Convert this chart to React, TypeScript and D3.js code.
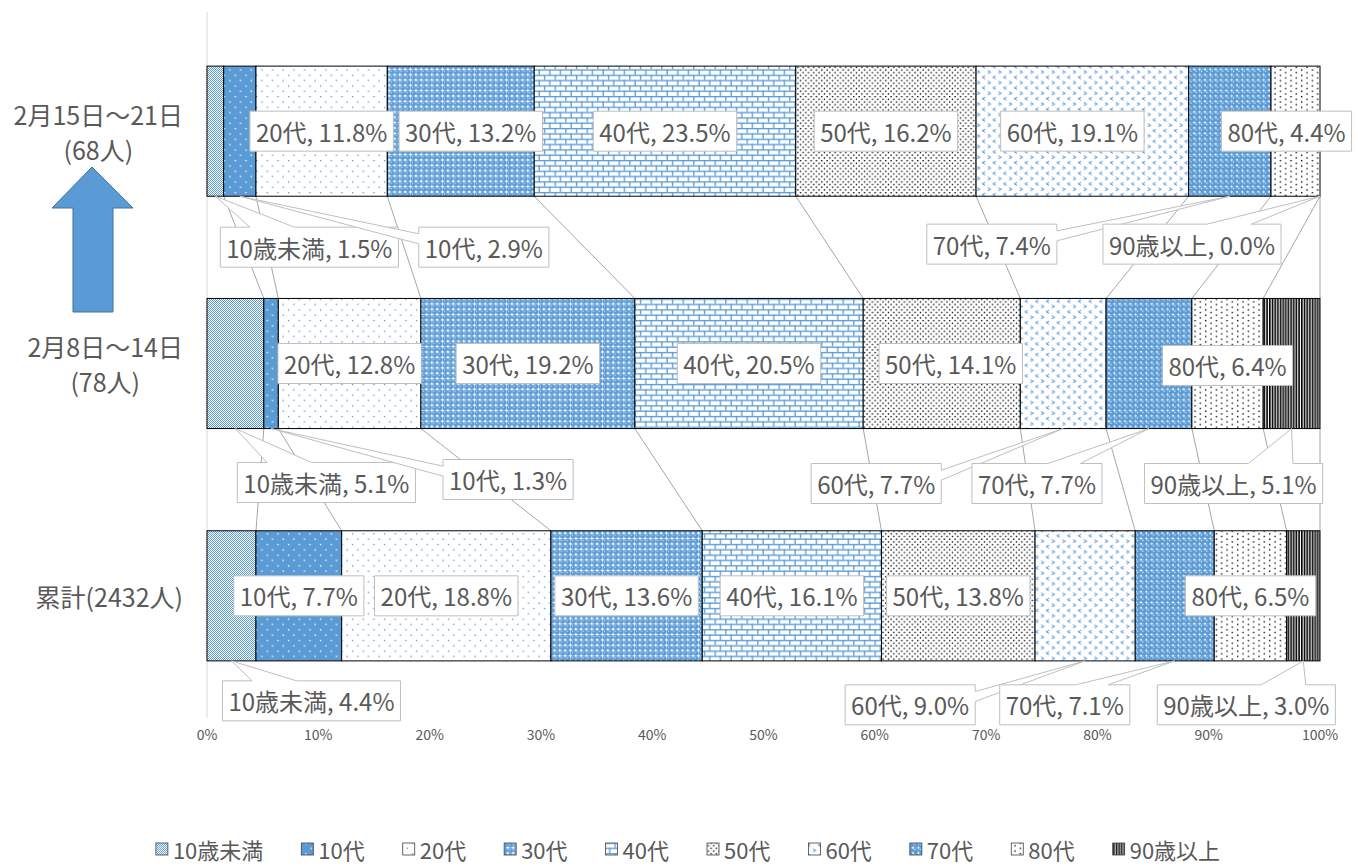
import React, { useRef, useEffect } from 'react';
import * as d3 from 'd3';

// categories (top to bottom) and the age groups that make up each bar
const categories = ['2月15日～21日', '2月8日～14日', '累計(2432人)'];
const categoryLines = [['2月15日～21日', '(68人)'], ['2月8日～14日', '(78人)'], ['累計(2432人)']];
const ageGroups = ['10歳未満', '10代', '20代', '30代', '40代', '50代', '60代', '70代', '80代', '90歳以上'];

// share of patients (%) per age group
const week0215 = [1.5, 2.9, 11.8, 13.2, 23.5, 16.2, 19.1, 7.4, 4.4, 0.0];
const week0208 = [5.1, 1.3, 12.8, 19.2, 20.5, 14.1, 7.7, 7.7, 6.4, 5.1];
const cumulative = [4.4, 7.7, 18.8, 13.6, 16.1, 13.8, 9.0, 7.1, 6.5, 3.0];
const seriesByCategory = [week0215, week0208, cumulative];

const xTicks = [0, 0.1, 0.2, 0.3, 0.4, 0.5, 0.6, 0.7, 0.8, 0.9, 1];

// hand placed label offsets (px) from the segment centre, like the moved labels in the sheet
const labelShift = [
  [[94, 116], [244, 116], [0, 0], [10, 0], [0, 0], [0, 0], [-10, 0], [-238, 113], [-9, 0], [-128, 113]],
  [[91, 119], [237, 116], [0, 0], [0, 0], [0, 0], [9, 0], [-187, 120], [-112, 120], [0, 2], [-58, 120]],
  [[80, 105], [0, 0], [0, 0], [0, 0], [0, 0], [0, 0], [-175, 109], [-110, 109], [0, 0], [-57, 109]],
];

const BLUE = '#5B9BD5';
const TEXT = '#595959';
const FONT = '"Noto Sans CJK JP", "Noto Sans", sans-serif';

type Shape = { kind: 'rect' | 'circle' | 'path'; a: any };

// Excel-like pattern fills, drawn on an 8x8 cell
const patterns: { id: string; bg: string; shapes: Shape[] }[] = [
  { id: 'p1', bg: BLUE, shapes: [
    { kind: 'rect', a: { x: 0, y: 0, width: 1, height: 1, fill: '#fff' } },
    { kind: 'rect', a: { x: 4, y: 4, width: 1, height: 1, fill: '#fff' } },
  ] },
  { id: 'p2', bg: '#fff', shapes: [
    { kind: 'rect', a: { x: 0, y: 0, width: 1, height: 1, fill: BLUE } },
    { kind: 'rect', a: { x: 4, y: 4, width: 1, height: 1, fill: BLUE } },
  ] },
  { id: 'p3', bg: '#fff', shapes: [[2, 2], [6, 2], [2, 6], [6, 6]].flatMap(([cx, cy]) => [
    { kind: 'circle' as const, a: { cx, cy, r: 2.0, fill: BLUE } },
    { kind: 'circle' as const, a: { cx: cx - 0.5, cy: cy - 0.5, r: 0.45, fill: '#fff' } },
  ]) },
  { id: 'p4', bg: '#fff', shapes: [
    { kind: 'rect', a: { x: 0, y: 0, width: 8, height: 1, fill: BLUE } },
    { kind: 'rect', a: { x: 0, y: 4, width: 8, height: 1, fill: BLUE } },
    { kind: 'rect', a: { x: 0, y: 0, width: 1, height: 4, fill: BLUE } },
    { kind: 'rect', a: { x: 4, y: 4, width: 1, height: 4, fill: BLUE } },
  ] },
  { id: 'p5', bg: '#fff', shapes: [[0, 0], [4, 0], [2, 2], [6, 2], [0, 4], [4, 4], [2, 6], [6, 6]].map(([x, y]) => (
    { kind: 'rect' as const, a: { x, y, width: 1, height: 1, fill: '#000' } })) },
  { id: 'p6', bg: '#fff', shapes: [
    { kind: 'path', a: { d: 'M3,0.8L1,2L3,3.2', fill: 'none', stroke: BLUE, 'stroke-width': 0.8 } },
    { kind: 'path', a: { d: 'M5,4.8L7,6L5,7.2', fill: 'none', stroke: BLUE, 'stroke-width': 0.8 } },
  ] },
  { id: 'p7', bg: '#fff', shapes: [[2, 2], [6, 2], [2, 6], [6, 6]].flatMap(([cx, cy]) => [
    { kind: 'circle' as const, a: { cx, cy, r: 2.15, fill: BLUE } },
    { kind: 'circle' as const, a: { cx: cx - 0.6, cy: cy - 0.6, r: 0.5, fill: '#fff' } },
  ]) },
  { id: 'p8', bg: '#fff', shapes: [[0, 0], [4, 2], [0, 4], [4, 6]].map(([x, y]) => (
    { kind: 'rect' as const, a: { x, y, width: 1, height: 1, fill: '#000' } })) },
  { id: 'p9', bg: '#fff', shapes: [0, 2, 4, 6].map((x) => (
    { kind: 'rect' as const, a: { x, y: 0, width: 1.2, height: 8, fill: '#000' } })) },
];

// rectangle with a wedge pointing at (px, py), like Excel's wedgeRectCallout
function calloutPath(x0: number, y0: number, w: number, h: number, px: number, py: number) {
  const x1 = x0 + w, y1 = y0 + h;
  if (px >= x0 && px <= x1 && py >= y0 && py <= y1) {
    return `M${x0},${y0}H${x1}V${y1}H${x0}Z`;
  }
  const dx = px - (x0 + w / 2), dy = py - (y0 + h / 2);
  const fr = (neg: boolean) => (neg ? [2 / 12, 5 / 12] : [7 / 12, 10 / 12]);
  if (Math.abs(dy) / h > Math.abs(dx) / w) {
    const [f0, f1] = fr(dx < 0);
    const b0 = x0 + w * f0, b1 = x0 + w * f1;
    if (dy < 0) return `M${x0},${y0}H${b0}L${px},${py}L${b1},${y0}H${x1}V${y1}H${x0}Z`;
    return `M${x0},${y0}H${x1}V${y1}H${b1}L${px},${py}L${b0},${y1}H${x0}Z`;
  }
  const [f0, f1] = fr(dy < 0);
  const c0 = y0 + h * f0, c1 = y0 + h * f1;
  if (dx > 0) return `M${x0},${y0}H${x1}V${c0}L${px},${py}L${x1},${c1}V${y1}H${x0}Z`;
  return `M${x0},${y0}H${x1}V${y1}H${x0}V${c1}L${px},${py}L${x0},${c0}Z`;
}

const App = () => {
  const svgRef = useRef<SVGSVGElement>(null);

  useEffect(() => {
    if (!svgRef.current) return;
    const svg = d3.select(svgRef.current);
    svg.selectAll('*').remove();

    // pattern defs
    const defs = svg.append('defs');
    patterns.forEach((p) => {
      const pat = defs.append('pattern')
        .attr('id', p.id)
        .attr('patternUnits', 'userSpaceOnUse')
        .attr('width', 8)
        .attr('height', 8)
        .attr('patternTransform', 'scale(1.333)');
      pat.append('rect').attr('width', 8).attr('height', 8).attr('fill', p.bg);
      p.shapes.forEach((s) => {
        const el = pat.append(s.kind);
        Object.entries(s.a).forEach(([k, v]) => el.attr(k, v as any));
      });
    });
    // fine checker for 10歳未満 (unscaled)
    const chk = defs.append('pattern').attr('id', 'p0').attr('patternUnits', 'userSpaceOnUse')
      .attr('width', 2).attr('height', 2);
    chk.append('rect').attr('width', 2).attr('height', 2).attr('fill', '#fff');
    chk.append('rect').attr('width', 1).attr('height', 1).attr('fill', BLUE);
    chk.append('rect').attr('x', 1).attr('y', 1).attr('width', 1).attr('height', 1).attr('fill', BLUE);

    const x = d3.scaleLinear().domain([0, 1]).range([207, 1320]);
    const y = d3.scaleBand().domain(categories).range([15, 712]).paddingInner(0.44).paddingOuter(0.22);
    const bw = y.bandwidth();

    const table = categories.map((c, j) => {
      const row: any = { cat: c };
      ageGroups.forEach((a, i) => { row[a] = seriesByCategory[j][i]; });
      return row;
    });
    const stacked = d3.stack<any>().keys(ageGroups).offset(d3.stackOffsetExpand)(table);

    // category axis line
    svg.append('line')
      .attr('x1', x(0)).attr('x2', x(0))
      .attr('y1', 12).attr('y2', 718)
      .attr('stroke', '#d9d9d9').attr('stroke-width', 1);

    // series lines between neighbouring bars
    const linesG = svg.append('g').attr('stroke', '#a6a6a6').attr('stroke-width', 1);
    stacked.forEach((s) => {
      for (let j = 0; j < categories.length - 1; j++) {
        linesG.append('line')
          .attr('x1', x(s[j][1])).attr('y1', y(categories[j])! + bw)
          .attr('x2', x(s[j + 1][1])).attr('y2', y(categories[j + 1])!);
      }
    });

    // bars
    const barsG = svg.append('g');
    stacked.forEach((s, i) => {
      barsG.selectAll(null)
        .data(s)
        .enter()
        .append('rect')
        .attr('x', (d) => x(d[0]))
        .attr('y', (d, j) => y(categories[j])!)
        .attr('width', (d) => x(d[1]) - x(d[0]))
        .attr('height', bw)
        .attr('fill', `url(#p${i})`)
        .attr('stroke', '#000')
        .attr('stroke-width', 1);
    });

    // x tick labels
    svg.append('g')
      .selectAll('text')
      .data(xTicks)
      .enter()
      .append('text')
      .attr('x', (d) => x(d))
      .attr('y', 740)
      .attr('text-anchor', 'middle')
      .attr('fill', TEXT)
      .style('font-family', FONT)
      .style('font-size', '14px')
      .text((d) => d3.format('.0%')(d));

    // category labels, right aligned as a block, lines centred inside it
    categories.forEach((c, j) => {
      const lines = categoryLines[j];
      const cy = y(c)! + bw / 2;
      const g = svg.append('g');
      const texts = lines.map((t, k) => g.append('text')
        .attr('y', cy + (k - (lines.length - 1) / 2) * 35)
        .attr('dominant-baseline', 'central')
        .attr('text-anchor', 'middle')
        .attr('fill', TEXT)
        .style('font-family', FONT)
        .style('font-size', '25px')
        .text(t));
      const widest = d3.max(texts, (t) => (t.node() as SVGTextElement).getComputedTextLength())!;
      texts.forEach((t) => t.attr('x', 183 - widest / 2));
    });

    // up arrow between the two weekly bars
    svg.append('path')
      .attr('d', 'M92,167L133,208L113,208L113,312L73,312L73,208L52,208Z')
      .attr('fill', BLUE)
      .attr('stroke', '#41719C')
      .attr('stroke-width', 1);

    // data labels
    const labelsG = svg.append('g');
    stacked.forEach((s, i) => {
      s.forEach((d, j) => {
        const v = seriesByCategory[j][i];
        const top = y(categories[j])!;
        const mx = (x(d[0]) + x(d[1])) / 2;
        const my = top + bw / 2;
        const [dx, dy] = labelShift[j][i];
        const cx = mx + dx, cy = my + dy;
        const g = labelsG.append('g');
        const txt = g.append('text')
          .attr('x', cx)
          .attr('y', cy)
          .attr('text-anchor', 'middle')
          .attr('dominant-baseline', 'central')
          .attr('fill', TEXT)
          .style('font-family', FONT)
          .style('font-size', '24px')
          .text(`${ageGroups[i]}, ${v.toFixed(1)}%`);
        const tw = (txt.node() as SVGTextElement).getComputedTextLength();
        const w = tw + 12, h = 40;
        const py = dy > bw / 2 ? top + bw : dy < -bw / 2 ? top : my;
        g.insert('path', 'text')
          .attr('d', calloutPath(cx - w / 2, cy - h / 2, w, h, mx, py))
          .attr('fill', '#fff')
          .attr('stroke', '#bfbfbf')
          .attr('stroke-width', 1);
      });
    });

    // legend
    const legendG = svg.append('g');
    const gap = 38;
    let lx = 0;
    ageGroups.forEach((a, i) => {
      legendG.append('rect')
        .attr('x', lx).attr('y', 843).attr('width', 12).attr('height', 12)
        .attr('fill', `url(#p${i})`)
        .attr('stroke', '#404040').attr('stroke-width', 0.8);
      const t = legendG.append('text')
        .attr('x', lx + 17).attr('y', 849)
        .attr('dominant-baseline', 'central')
        .attr('fill', TEXT)
        .style('font-family', FONT)
        .style('font-size', '22px')
        .text(a);
      lx += 17 + (t.node() as SVGTextElement).getComputedTextLength() + gap;
    });
    const legendW = lx - gap;
    legendG.attr('transform', `translate(${688 - legendW / 2},0)`);

    return () => { svg.selectAll('*').remove(); };
  }, []);

  return (
    <svg
      ref={svgRef}
      width={1358}
      height={868}
      viewBox="0 0 1358 868"
      style={{ position: 'absolute', left: 0, top: 0, display: 'block', background: '#fff' }}
    />
  );
};

export default App;
